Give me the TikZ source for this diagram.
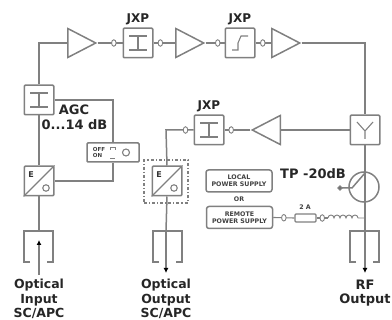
\documentclass[tikz,border=0pt]{standalone}
\usepackage{fontspec}
\setmainfont{DejaVu Sans}
\usepackage{tikz}
\usetikzlibrary{positioning, arrows.meta, shapes.geometric}
\definecolor{wire}{gray}{0.5}
\begin{document}
\begin{tikzpicture}[
  x=1pt, y=-1pt,
  font=\bfseries\scriptsize,
  wire/.style={draw=wire, line width=1.5pt},
  thin wire/.style={draw=wire, line width=1.1pt},
  ampbox/.style={wire, isosceles triangle, isosceles triangle stretches, minimum height=28pt, minimum width=29pt, inner sep=0pt, anchor=lower side},
  filt/.style={wire, rounded corners=1pt, minimum size=29.5pt, inner sep=0pt},
  psu/.style={wire, rounded corners=2.5pt, minimum width=66pt, minimum height=22pt, inner sep=0pt, align=center, font=\bfseries\fontsize{6.3}{7}\selectfont, text=black!75},
  plug/.style={ellipse, draw=wire, fill=white, line width=.9pt, minimum width=4.5pt, minimum height=6.5pt, inner sep=0pt},
  tip/.style={-{Latex[black,length=5pt,width=5pt]}},
  lbl/.style={font=\bfseries\fontsize{13}{14.5}\selectfont, align=center, text=black!85},
  jxp/.style={font=\bfseries\fontsize{12}{12}\selectfont, text=black!85},
]
  \useasboundingbox (0,0) rectangle (392,320);

  % top row
  \node[filt] (agcf) at (39,100) {};
  \node[ampbox] (a1) at (67,43) {};
  \node[filt] (j1) at (138,43) {};
  \node[ampbox] (a2) at (175,43) {};
  \node[filt] (j2) at (240,43) {};
  \node[ampbox] (a3) at (271,43) {};

  % return row
  \node[filt] (split) at (365,130) {};
  \node[ampbox, shape border rotate=180] (a4) at (281,130) {};
  \node[filt] (j3) at (209,130) {};

  % converters
  \node[filt] (oe1) at (39,181) {};
  \node[filt] (oe2) at (167,181) {};
  \node[thin wire, dash dot, minimum width=44pt, minimum height=43pt, inner sep=0pt] (oebox) at (166,181.5) {};
  \draw[thin wire] (oe1.south west) -- (oe1.north east);
  \draw[thin wire] (oe2.south west) -- (oe2.north east);
  \node[font=\bfseries\fontsize{8}{8}\selectfont, text=black!80] (e1) at (31,175) {E};
  \node[circle, thin wire, minimum size=6.5pt, inner sep=0pt] (o1) at (46,188) {};
  \node[font=\bfseries\fontsize{8}{8}\selectfont, text=black!80] (e2) at (159,175) {E};
  \node[circle, thin wire, minimum size=6.5pt, inner sep=0pt] (o2) at (174,188) {};

  % AGC switch
  \node[wire, rounded corners=1pt, minimum width=52pt, minimum height=19pt, inner sep=0pt] (sw) at (113,152.5) {};
  \node[font=\bfseries\fontsize{5.5}{6}\selectfont, align=left, text=black!75] (swt) at (99,152.5) {OFF\\ON};
  \node[circle, thin wire, minimum size=7pt, inner sep=0pt] (swc) at (126,152.5) {};
  \draw[draw=wire, line width=.5pt] (110,150) -- ++(0,-3) -- ++(5,0) -- ++(0,3);
  \draw[draw=wire, line width=.5pt] (110,158) -- ++(5,0);

  % wiring
  \draw[wire] (a1.apex) -- node[pos=.65, plug] (p1) {} (j1.west);
  \draw[wire] (j1.east) -- node[pos=.32, plug] (p2) {} (a2.lower side);
  \draw[wire] (a2.apex) -- node[pos=.64, plug] (p3) {} (j2.west);
  \draw[wire] (j2.east) -- node[pos=.47, plug] (p4) {} (a3.lower side);
  \draw[wire] (a3.apex) -| (split.north);
  \draw[wire] (agcf.north) |- (a1.lower side);
  \draw[wire] (split.west) -- (a4.lower side);
  \draw[wire] (a4.apex) -- node[pos=.74, plug] (p5) {} (j3.east);
  \coordinate (bend) at (166,130);
  \draw[wire] (j3.west) -- node[pos=.29, plug] (p6) {} (bend) -- (oe2.north);
  \draw[wire] (agcf.south) -- (oe1.north);
  \draw[wire] (agcf.east) -| (sw.north);
  \draw[wire] (sw.south) |- (oe1.east);

  % inner symbols
  \draw[thin wire] (30,93) -- (48,93) (39,93) -- (39,107) (30,107) -- (48,107);
  \draw[thin wire] (129,36) -- (147,36) (138,36) -- (138,50) (129,50) -- (147,50);
  \draw[thin wire] (200,123) -- (218,123) (209,123) -- (209,137) (200,137) -- (218,137);
  \draw[thin wire] (232,50) -- (238,50) -- (238,43) -- (241,36) -- (248,36);
  \draw[thin wire] (357,122) -- (365,131) -- (373,122) (365,131) -- (365,139);

  % connectors and arrows
  \coordinate (in1) at (39,275);
  \coordinate (in2) at (39,240);
  \coordinate (out1) at (166,273);
  \coordinate (out2) at (365,273);
  \coordinate (cup2) at (166,231);
  \coordinate (cup3) at (365,231);

  \draw[wire] (oe1.south) -- (39,231);
  \draw[wire] (30,262) -- (24,262) -- (24,231) -- (53,231) -- (53,262) -- (47,262);
  \draw[thin wire, tip] (in1) -- (in2);

  \draw[wire] (oe2.south) -- (cup2);
  \draw[wire] (159,262) -- (153,262) -- (153,231) -- (182,231) -- (182,262) -- (176,262);
  \draw[thin wire, tip] (cup2) -- (out1);

  \draw[wire] (split.south) -- (cup3);
  \draw[wire] (356,262) -- (350,262) -- (350,231) -- (379,231) -- (379,262) -- (373,262);
  \draw[thin wire, tip] (cup3) -- (out2);

  % test point
  \node[circle, wire, minimum size=30pt, inner sep=0pt] (tp) at (364,187) {};
  \draw[wire] (340,188) -- (352,188) -- (365,173);
  \fill[wire] (340,188) circle (1.8pt);

  % power
  \node[psu] (lp) at (239,181) {LOCAL\\POWER SUPPLY};
  \node[psu] (rp) at (239.5,217.5) {REMOTE\\POWER SUPPLY};
  \node[font=\bfseries\fontsize{6.3}{6}\selectfont, text=black!75] (ortxt) at (239,199) {OR};
  \node[thin wire, rounded corners=1pt, minimum width=21pt, minimum height=8pt, inner sep=0pt] (fuse) at (305.5,218) {};
  \node[font=\bfseries\fontsize{6.3}{6}\selectfont, text=black!75] (fuset) at (305,207) {2 A};
  \coordinate (coil1) at (328,218);
  \coordinate (coil3) at (365,218);
  \draw[thin wire] (rp.east) -- node[pos=.5, plug] (p7) {} (fuse.west);
  \draw[thin wire] (fuse.east) -- node[pos=.5, plug] (p8) {} (coil1);
  \draw[draw=wire, line width=.9pt] (coil1) foreach \i in {1,...,5} {arc[start angle=180, end angle=0, radius=3pt]} -- (coil3);

  % labels
  \node[jxp, above=-1pt of j1] (l1) {JXP};
  \node[jxp, above=-1pt of j2] (l2) {JXP};
  \node[jxp, above=-1pt of j3] (l3) {JXP};
  \node[lbl] (agc) at (74,110) {AGC};
  \node[lbl] (agcr) at (74.5,125) {0...14 dB};
  \node[lbl] (tpl) at (313,174) {TP -20dB};
  \node[lbl, font=\bfseries\fontsize{12.5}{14.2}\selectfont] (oin) at (39,299) {Optical\\Input\\SC/APC};
  \node[lbl, font=\bfseries\fontsize{12.5}{14.2}\selectfont] (oout) at (166,299) {Optical\\Output\\SC/APC};
  \node[lbl] (rf) at (365,293) {RF\\Output};
\end{tikzpicture}
\end{document}
